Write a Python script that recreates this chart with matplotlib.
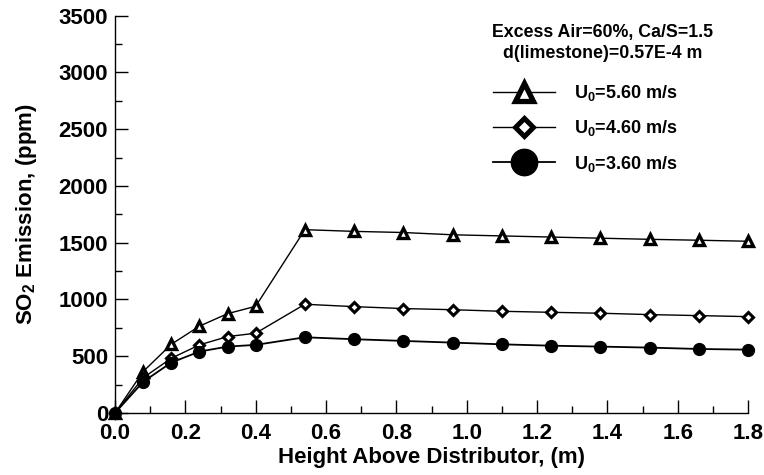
import matplotlib
matplotlib.use("Agg")
import matplotlib.pyplot as plt
from matplotlib.ticker import MultipleLocator, FormatStrFormatter
from matplotlib.lines import Line2D

plt.rcParams['font.family'] = ['Liberation Sans', 'DejaVu Sans']
plt.rcParams['font.weight'] = 'bold'
plt.rcParams['mathtext.fontset'] = 'custom'
plt.rcParams['mathtext.rm'] = 'Liberation Sans:bold'
plt.rcParams['mathtext.it'] = 'Liberation Sans:bold'
plt.rcParams['mathtext.bf'] = 'Liberation Sans:bold'
plt.rcParams['mathtext.default'] = 'regular'

height = [0.0, 0.08, 0.16, 0.24, 0.32, 0.40, 0.54, 0.68, 0.82, 0.96, 1.10, 1.24, 1.38, 1.52, 1.66, 1.80]
so2_u560 = [0, 365, 605, 765, 875, 940, 1615, 1600, 1590, 1570, 1560, 1550, 1540, 1530, 1522, 1513]
so2_u460 = [0, 310, 482, 600, 673, 703, 958, 937, 920, 910, 896, 887, 879, 867, 858, 849]
so2_u360 = [0, 275, 444, 541, 585, 600, 667, 650, 635, 620, 605, 593, 585, 576, 564, 558]
labels = [r'U$_0$=5.60 m/s', r'U$_0$=4.60 m/s', r'U$_0$=3.60 m/s']
header = 'Excess Air=60%, Ca/S=1.5\nd(limestone)=0.57E-4 m'

fig = plt.figure(figsize=(7.64, 4.75), dpi=100)
ax = fig.add_axes([115/764, 1-413/475, (748-115)/764, (413-15.7)/475])

ax.plot(height, so2_u560, color='black', lw=1.0, marker='^', ms=6.5,
        mfc='white', mec='black', mew=2.4, clip_on=False)
ax.plot(height, so2_u460, color='black', lw=1.0, marker='D', ms=4.8,
        mfc='white', mec='black', mew=2.2, clip_on=False)
ax.plot(height, so2_u360, color='black', lw=1.3, marker='o', ms=8.5,
        mfc='black', mec='black', clip_on=False)

ax.set_xlim(0, 1.8)
ax.set_ylim(0, 3500)
ax.xaxis.set_major_locator(MultipleLocator(0.2))
ax.xaxis.set_minor_locator(MultipleLocator(0.1))
ax.yaxis.set_major_locator(MultipleLocator(500))
ax.yaxis.set_minor_locator(MultipleLocator(250))
ax.xaxis.set_major_formatter(FormatStrFormatter('%.1f'))
ax.yaxis.set_major_formatter(FormatStrFormatter('%d'))

for s in ['top', 'right']:
    ax.spines[s].set_visible(False)
for s in ['left', 'bottom']:
    ax.spines[s].set_linewidth(1.0)
ax.tick_params(which='major', direction='in', length=9.5, width=1.0, labelsize=16)
ax.tick_params(which='minor', direction='in', length=5, width=1.0)
ax.tick_params(axis='y', pad=5)
ax.tick_params(axis='x', pad=7.5)

ax.set_xlabel('Height Above Distributor, (m)', fontsize=16, fontweight='bold', labelpad=2)
ax.set_ylabel(r'SO$_2$ Emission, (ppm)', fontsize=16, fontweight='bold', labelpad=14)

fig.text(603/764, 1-43/475, header, ha='center', va='center', fontsize=12.8,
         fontweight='bold', linespacing=1.35)

h1 = Line2D([], [], color='black', lw=1.0, marker='^', ms=12.5, mfc='white', mec='black', mew=3.8)
h2 = Line2D([], [], color='black', lw=1.0, marker='D', ms=9, mfc='white', mec='black', mew=3.6)
h3 = Line2D([], [], color='black', lw=1.3, marker='o', ms=19, mfc='black', mec='black')
leg = ax.legend([h1, h2, h3], labels, loc='upper left',
                bbox_to_anchor=(493/764, 1-83/475), bbox_transform=fig.transFigure,
                frameon=False, fontsize=13, handlelength=3.45, handletextpad=1.05,
                labelspacing=0.85, borderpad=0, borderaxespad=0)

fig.savefig('out.png', dpi=100)
